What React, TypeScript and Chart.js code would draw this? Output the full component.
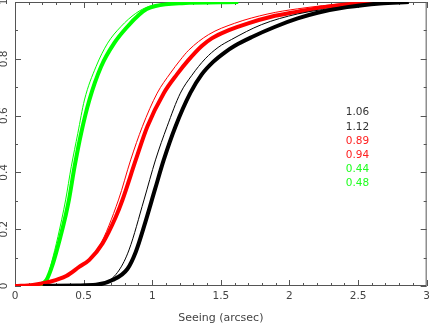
import { useEffect, useRef } from "react";
import { Chart, registerables } from "chart.js";
Chart.register(...registerables);

// Cumulative distributions of seeing (arcsec)
const blackThinX = [0.2, 0.45, 0.663, 0.759, 0.831, 0.94, 1.024, 1.108, 1.205, 1.289, 1.386, 1.48, 1.578, 1.795, 2.06, 2.42, 2.66, 2.855];
const blackThinY = [0, 0.003, 0.014, 0.056, 0.127, 0.303, 0.444, 0.561, 0.679, 0.742, 0.8, 0.84, 0.868, 0.92, 0.958, 0.984, 0.995, 1.0];
const blackThickX = [0.205, 0.45, 0.59, 0.71, 0.819, 0.88, 0.95, 1.02, 1.084, 1.169, 1.277, 1.361, 1.446, 1.53, 1.602, 1.723, 1.892, 2.06, 2.205, 2.42, 2.66, 2.87];
const blackThickY = [0, 0.002, 0.004, 0.021, 0.06, 0.12, 0.225, 0.34, 0.444, 0.561, 0.679, 0.745, 0.79, 0.823, 0.846, 0.876, 0.912, 0.942, 0.962, 0.982, 0.995, 1.0];
const redThinX = [0, 0.13, 0.253, 0.373, 0.494, 0.614, 0.754, 0.843, 0.928, 1.036, 1.133, 1.205, 1.265, 1.41, 1.6, 1.843, 2.06, 2.42, 2.69];
const redThinY = [0, 0.004, 0.016, 0.038, 0.074, 0.139, 0.303, 0.444, 0.561, 0.679, 0.75, 0.796, 0.83, 0.885, 0.925, 0.958, 0.976, 0.995, 1.0];
const redThickX = [0, 0.13, 0.253, 0.373, 0.47, 0.542, 0.638, 0.735, 0.783, 0.88, 0.964, 1.084, 1.18, 1.265, 1.361, 1.434, 1.554, 1.699, 1.867, 2.06, 2.25, 2.45, 2.687];
const redThickY = [0, 0.004, 0.015, 0.035, 0.068, 0.092, 0.15, 0.244, 0.303, 0.444, 0.561, 0.679, 0.745, 0.796, 0.845, 0.872, 0.9, 0.925, 0.948, 0.966, 0.982, 0.993, 1.0];
const greenThinX = [0.096, 0.18, 0.229, 0.265, 0.313, 0.369, 0.41, 0.458, 0.506, 0.59, 0.675, 0.771, 0.88, 0.976, 1.217, 1.58];
const greenThinY = [0, 0.004, 0.021, 0.08, 0.174, 0.303, 0.42, 0.538, 0.655, 0.772, 0.855, 0.913, 0.96, 0.984, 0.996, 1.0];
const greenThickX = [0.096, 0.18, 0.229, 0.277, 0.325, 0.37, 0.393, 0.434, 0.482, 0.542, 0.627, 0.723, 0.819, 0.904, 0.96, 1.024, 1.217, 1.627];
const greenThickY = [0, 0.004, 0.021, 0.08, 0.162, 0.25, 0.303, 0.42, 0.538, 0.655, 0.772, 0.855, 0.913, 0.955, 0.975, 0.986, 0.996, 1.0];

// Median labels
const annoLabels = ["1.06", "1.12", "0.89", "0.94", "0.44", "0.48"];
const annoColors = ["#333333", "#333333", "#ff2020", "#ff2020", "#20ff20", "#20ff20"];
const annoY = [0.61, 0.56, 0.51, 0.46, 0.41, 0.36];
const annoX = 2.41;

const xTitle = "Seeing (arcsec)";
const FONT = "DejaVu Sans";

function pts(xs: number[], ys: number[]) {
  return xs.map((x, i) => ({ x, y: ys[i] }));
}

const framePlugin = {
  id: "frame",
  beforeDatasetsDraw(chart: any) {
    const { ctx, chartArea: a, scales } = chart;
    const x = scales.x, y = scales.y;
    ctx.save();
    ctx.strokeStyle = "#555";
    ctx.lineWidth = 1;
    ctx.strokeRect(a.left + 0.5, a.top + 0.5, a.right - a.left - 1, a.bottom - a.top - 1);
    ctx.beginPath();
    for (let i = 0; i <= 30; i++) {
      const v = i / 10;
      const px = Math.round(x.getPixelForValue(v)) + 0.5;
      const len = i % 5 === 0 ? 6 : 3;
      ctx.moveTo(px, a.bottom);
      ctx.lineTo(px, a.bottom - len);
      ctx.moveTo(px, a.top);
      ctx.lineTo(px, a.top + len);
    }
    for (let i = 0; i <= 10; i++) {
      const v = i / 10;
      const py = Math.round(y.getPixelForValue(v)) + 0.5;
      const len = i % 2 === 0 ? 6 : 3;
      ctx.moveTo(a.left, py);
      ctx.lineTo(a.left + len, py);
      ctx.moveTo(a.right, py);
      ctx.lineTo(a.right - len, py);
    }
    ctx.stroke();
    ctx.restore();
  },
  afterDraw(chart: any) {
    const { ctx, scales } = chart;
    const x = scales.x, y = scales.y;
    ctx.save();
    // rotated y tick labels
    ctx.fillStyle = "#444";
    ctx.font = `10.5px "${FONT}"`;
    ctx.textAlign = "center";
    ctx.textBaseline = "middle";
    for (const t of y.ticks) {
      const py = y.getPixelForValue(t.value);
      ctx.save();
      ctx.translate(4.5, py);
      ctx.rotate(-Math.PI / 2);
      ctx.fillText(String(+t.value.toFixed(2)), 0, 0);
      ctx.restore();
    }
    // annotations
    ctx.font = `10.5px "${FONT}"`;
    ctx.textAlign = "left";
    annoLabels.forEach((lab, i) => {
      ctx.fillStyle = annoColors[i];
      ctx.fillText(lab, x.getPixelForValue(annoX), y.getPixelForValue(annoY[i]));
    });
    ctx.restore();
  },
};

export default function App() {
  const ref = useRef<HTMLCanvasElement>(null);
  useEffect(() => {
    const mk = (label: string, xs: number[], ys: number[], color: string, w: number) => ({
      label,
      data: pts(xs, ys),
      borderColor: color,
      backgroundColor: color,
      borderWidth: w,
      pointRadius: 0,
      fill: false,
      cubicInterpolationMode: "monotone" as const,
    });
    const chart = new Chart(ref.current!, {
      type: "line",
      data: {
        datasets: [
          mk("black thin", blackThinX, blackThinY, "#000000", 1),
          mk("black thick", blackThickX, blackThickY, "#000000", 4),
          mk("red thin", redThinX, redThinY, "#ff0000", 1),
          mk("red thick", redThickX, redThickY, "#ff0000", 4),
          mk("green thin", greenThinX, greenThinY, "#00ff00", 1),
          mk("green thick", greenThickX, greenThickY, "#00ff00", 4),
        ],
      },
      options: {
        responsive: false,
        animation: false,
        layout: { padding: { top: 2, right: 4, left: 0, bottom: 0 } },
        plugins: { legend: { display: false }, tooltip: { enabled: false } },
        scales: {
          x: {
            type: "linear",
            min: 0,
            max: 3,
            grid: { display: false, drawTicks: false },
            border: { display: false },
            ticks: {
              stepSize: 0.5,
              color: "#444",
              padding: 4,
              maxRotation: 0,
              font: { family: FONT, size: 10.5 },
              callback: (v: any) => String(+Number(v).toFixed(2)),
            },
            title: {
              display: true,
              text: xTitle,
              color: "#444",
              font: { family: FONT, size: 11 },
              padding: { top: 0, bottom: 2 },
            },
            afterFit: (s: any) => {
              s.height = 41;
            },
          },
          y: {
            type: "linear",
            min: 0,
            max: 1,
            grid: { display: false, drawTicks: false },
            border: { display: false },
            ticks: { stepSize: 0.2, display: false },
            afterFit: (s: any) => {
              s.width = 15;
            },
          },
        },
      },
      plugins: [framePlugin],
    });
    return () => chart.destroy();
  }, []);
  return (
    <div style={{ position: "fixed", left: 0, top: 0, width: 434, height: 327, background: "#fff" }}>
      <canvas ref={ref} width={434} height={327} />
    </div>
  );
}
